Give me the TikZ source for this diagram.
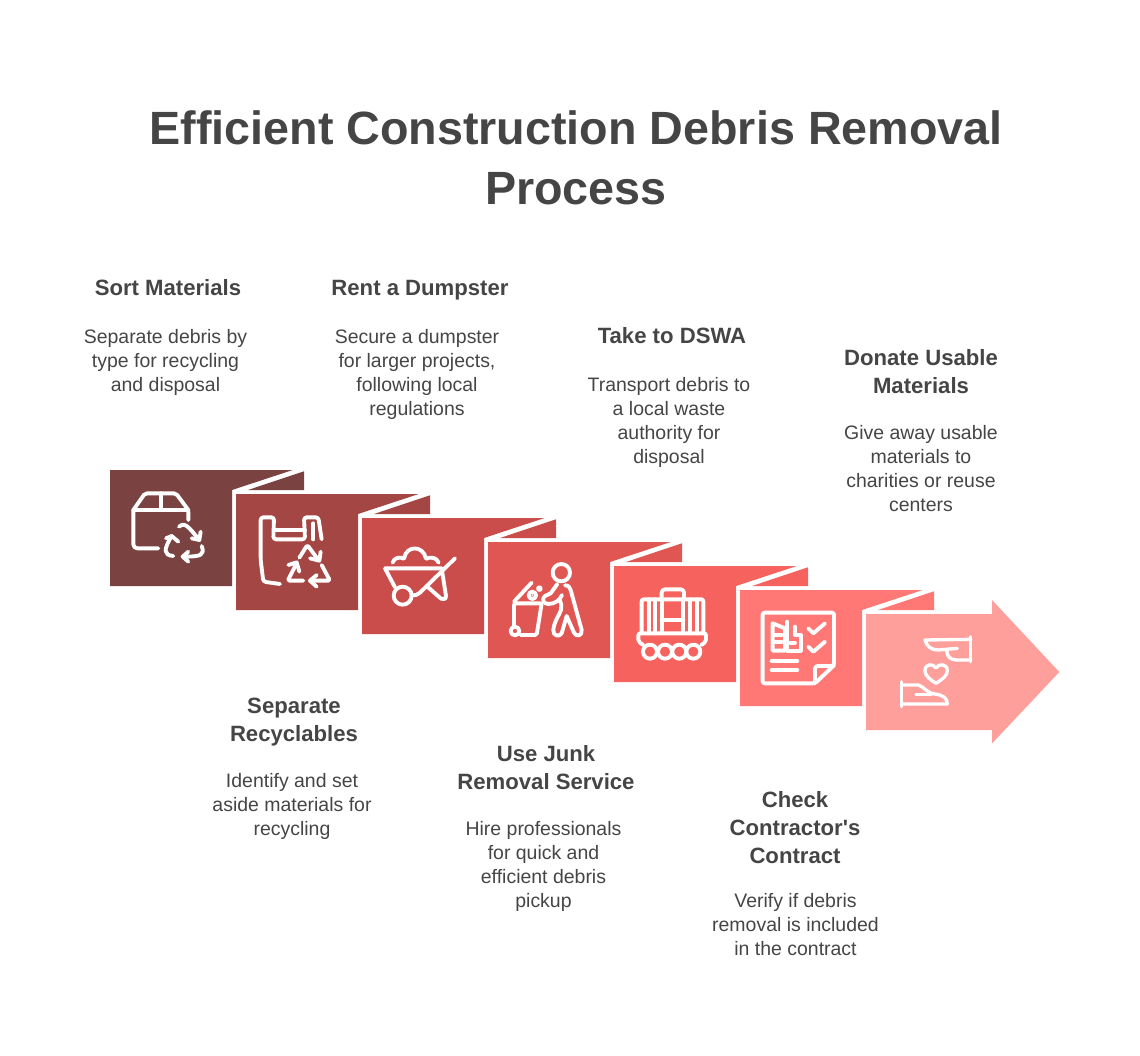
\documentclass[tikz,border=0pt]{standalone}
\usepackage{fontspec}
\setmainfont{Liberation Sans}
\definecolor{inktext}{HTML}{454545}
\definecolor{panelA}{HTML}{7A4341}
\definecolor{panelB}{HTML}{A44643}
\definecolor{panelC}{HTML}{CB4D4B}
\definecolor{panelD}{HTML}{E05653}
\definecolor{panelE}{HTML}{F6625E}
\definecolor{panelF}{HTML}{FF7875}
\definecolor{panelG}{HTML}{FF9F9C}
\begin{document}
\begin{tikzpicture}[x=0.75pt,y=-0.75pt,
    every node/.style={inner sep=0pt,align=center,text=inktext,execute at begin node=\strut,execute at end node=\strut},
    titletext/.style={font=\fontsize{35}{45}\selectfont\bfseries},
    headtext/.style={font=\fontsize{16.6}{21}\selectfont\bfseries},
    bodytext/.style={font=\fontsize{14.6}{18}\selectfont},
    icon/.style 2 args={shift={(#1,#2)},x=0.25pt,y=-0.25pt,draw=white,line width=2.9pt,line cap=round,line join=round}]
    \useasboundingbox (0,0) rectangle (1140,1056);

    \node[titletext] (title) at (576,167) {Efficient Construction Debris Removal\\Process};

    % folded panels
    \foreach \i/\c in {0/panelA,1/panelB,2/panelC,3/panelD,4/panelE,5/panelF} {
        \begin{scope}[shift={({110+126*\i},{470+24*\i})}]
            \fill[\c] (0,0) -- (182.7,0) -- (122,20) -- (122,116) -- (0,116) -- cycle;
            \fill[\c] (138,20) -- (194,1.3) -- (194,20) -- cycle;
        \end{scope}
    }
    \fill[panelG] (866,614) -- (992,614) -- (992,600) -- (1059.3,672) -- (992,743.5) -- (992,730) -- (866,730) -- cycle;

    % box with recycling arrows
    \begin{scope}[icon={100}{460}]
        \draw[rounded corners=3pt] (175,265) -- (100,265) -- (100,150);
        \draw[rounded corners=1.5pt] (100,150) -- (135,100) -- (228,100) -- (265,150) -- (265,180);
        \draw (100,150) -- (265,150) (182,100) -- (182,150);
        \draw (237,200) .. controls (255,185) and (265,200) .. (298,240);
        \draw (275,235) -- (298,240) -- (302,215);
        \draw (305,258) .. controls (315,285) and (305,290) .. (248,290);
        \draw (265,275) -- (248,290) -- (265,305);
        \draw (220,288) .. controls (190,285) and (190,270) .. (215,228);
        \draw (198,235) -- (215,228) -- (235,245);
    \end{scope}

    % bag with recycling triangle
    \begin{scope}[icon={100}{460}]
        \draw[rounded corners=2pt] (540,372) -- (490,365) -- (482,300) -- (482,172) -- (522,172) -- (520,238) -- (615,238) -- (612,172) -- (655,172) -- (665,238);
        \draw (640,190) -- (640,238) (525,210) -- (615,210);
        \draw[rounded corners=1.2pt] (598,293) -- (622,255) -- (655,300);
        \draw (630,295) -- (658,302) -- (662,275);
        \draw[rounded corners=1.2pt] (665,315) -- (690,362) -- (630,362);
        \draw (650,345) -- (630,362) -- (650,380);
        \draw[rounded corners=1.2pt] (610,362) -- (563,362) -- (590,310);
        \draw (565,315) -- (590,307) -- (598,335);
    \end{scope}

    % wheelbarrow
    \begin{scope}[icon={360}{510}]
        \draw (75,175) -- (245,175) (75,175) -- (105,232);
        \draw (285,145) -- (180,248) .. controls (172,255) and (165,257) .. (156,256);
        \draw (128,257) circle[radius=27];
        \draw (245,175) -- (258,258) .. controls (258,268) and (250,270) .. (243,266) -- (200,228);
        \draw (98,158) .. controls (102,142) and (120,140) .. (132,146) .. controls (138,105) and (190,105) .. (198,146) .. controls (212,140) and (230,142) .. (236,158);
    \end{scope}

    % worker and bin
    \begin{scope}[icon={360}{510}]
        \draw (604,188) circle[radius=26];
        \draw (615,226) .. controls (625,226) and (630,232) .. (632,240) -- (665,360) .. controls (668,378) and (648,382) .. (642,368) -- (620,318) -- (605,370) .. controls (598,382) and (578,378) .. (580,360) .. controls (582,335) and (598,315) .. (603,300) .. controls (606,290) and (604,280) .. (598,268);
        \draw (592,222) -- (572,250) -- (555,258) .. controls (545,265) and (548,282) .. (565,282) .. controls (585,282) and (600,270) .. (606,255);
        \draw (462,275) -- (515,218);
        \draw[rounded corners=1.2pt] (462,350) -- (462,280) -- (545,280) -- (530,375) -- (482,375);
        \draw (465,363) circle[radius=13];
        \draw (517,256) circle[radius=11];
        \draw (538,236) circle[radius=5];
        \fill[white] (517,256) circle[radius=3];
    \end{scope}

    % luggage on a cart
    \begin{scope}[icon={360}{510}]
        \draw[rounded corners=1.5pt] (845,370) -- (845,268) -- (1030,268) -- (1030,370);
        \draw[rounded corners=2.5pt] (905,268) -- (905,238) -- (972,238) -- (972,268);
        \draw (866,268) -- (866,370) (885,268) -- (885,370);
        \draw (990,268) -- (990,370) (1010,268) -- (1010,370);
        \draw (905,268) -- (905,368) (970,268) -- (970,368) (905,330) -- (970,330);
        \draw[rounded corners=1.5pt] (850,405) -- (835,395) -- (835,370) -- (1038,370) -- (1038,395) -- (1024,405);
        \foreach \w in {870,915,958,1000} {
            \draw (\w,425) circle[radius=21];
        }
    \end{scope}

    % contract sheet
    \begin{scope}[icon={730}{580}]
        \draw[rounded corners=1.5pt] (98,98) -- (312,98) -- (312,256) -- (255,310) -- (98,310) -- cycle;
        \draw[rounded corners=2pt] (255,310) -- (255,258) -- (312,258);
        \draw (128,130) -- (165,145) -- (165,212) -- (128,212) -- cycle;
        \draw (135,165) -- (155,165) (135,185) -- (155,185);
        \draw (172,125) -- (172,212) -- (212,212) -- (212,165) -- (195,165) -- (195,140);
        \draw (180,188) -- (195,188);
        \draw (235,145) -- (250,160) -- (285,130);
        \draw (235,200) -- (250,215) -- (285,185);
        \draw (125,243) -- (202,243) (125,270) -- (202,270);
    \end{scope}

    % hands and heart
    \begin{scope}[icon={730}{580},line width=2.5pt]
        \draw (722,170) -- (722,245);
        \draw (722,178) -- (585,180) .. controls (590,200) and (605,210) .. (625,210) -- (682,205);
        \draw (650,210) .. controls (650,228) and (660,240) .. (680,240) -- (722,240);
        \draw (514,305) -- (514,380);
        \draw (514,315) -- (565,315) .. controls (580,318) and (590,340) .. (615,342) .. controls (640,345) and (652,355) .. (652,372) -- (514,372);
        \draw (558,343) -- (605,343);
        \draw (618,310) .. controls (600,298) and (585,288) .. (585,272) .. controls (585,250) and (610,250) .. (618,264) .. controls (626,250) and (652,250) .. (652,272) .. controls (652,288) and (636,298) .. (618,310);
    \end{scope}

    \node[headtext] (sorthead) at (168,290) {Sort Materials};
    \node[bodytext] (sortbody) at (165.5,364) {Separate debris by\\type for recycling\\and disposal};
    \node[headtext] (renthead) at (420,290) {Rent a Dumpster};
    \node[bodytext] (rentbody) at (417,376) {Secure a dumpster\\for larger projects,\\following local\\regulations};
    \node[headtext] (dswahead) at (672,338) {Take to DSWA};
    \node[bodytext] (dswabody) at (669,424) {Transport debris to\\a local waste\\authority for\\disposal};
    \node[headtext] (donatehead) at (921,376) {Donate Usable\\Materials};
    \node[bodytext] (donatebody) at (921,472) {Give away usable\\materials to\\charities or reuse\\centers};
    \node[headtext] (recyclehead) at (294,724) {Separate\\Recyclables};
    \node[bodytext] (recyclebody) at (292,808) {Identify and set\\aside materials for\\recycling};
    \node[headtext] (junkhead) at (546,772) {Use Junk\\Removal Service};
    \node[bodytext] (junkbody) at (543.5,868) {Hire professionals\\for quick and\\efficient debris\\pickup};
    \node[headtext] (checkhead) at (795,832) {Check\\Contractor\textquotesingle s\\Contract};
    \node[bodytext] (checkbody) at (795.5,928) {Verify if debris\\removal is included\\in the contract};
\end{tikzpicture}
\end{document}
